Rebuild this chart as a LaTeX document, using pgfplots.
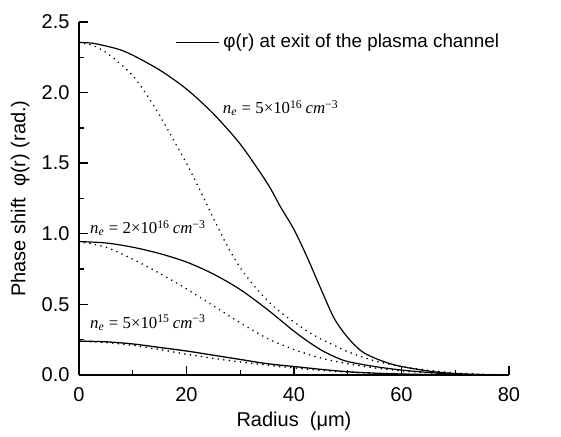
\documentclass[border=0pt]{standalone}
\usepackage{pgfplots}
\pgfplotsset{compat=1.18}
\usepackage{fontspec}
\setmainfont{Liberation Sans}
\newfontfamily\serifit{Liberation Serif}

\newcommand{\density}[2]{{\serifit\fontsize{8.4}{10}\selectfont\itshape n\textsubscript{e}\upshape~=~#1×10\textsuperscript{#2}\,\itshape cm\textsuperscript{\upshape −3}}}

\begin{document}
\begin{tikzpicture}
\begin{axis}[
  at={(0,0)}, anchor=south west,
  scale only axis, width=215pt, height=176.5pt,
  xmin=0, xmax=80, ymin=0, ymax=2.5,
  axis x line=bottom, axis y line=left,
  axis line style={-, line width=0.75pt},
  xtick={0,20,...,80}, ytick={0,0.5,...,2.5},
  minor x tick num=1, minor y tick num=1,
  tick align=inside,
  major tick length=4.5pt, minor tick length=2.5pt,
  every tick/.style={black, line width=0.7pt},
  /pgf/number format/assume math mode=true,
  tick label style={font=\fontsize{10}{12}\selectfont},
  yticklabel style={/pgf/number format/fixed, /pgf/number format/fixed zerofill,
    /pgf/number format/precision=1, xshift=-1.2pt},
  xticklabel style={yshift=-2.5pt},
  label style={font=\fontsize{10}{12}\selectfont},
  xlabel={Radius\ \ (μm)},
  ylabel={Phase shift\ \ φ(r) (rad.)},
  xlabel style={at={(axis description cs:0.5,0)}, anchor=center, yshift=-23pt},
  ylabel style={at={(axis description cs:-0.137,0.5)}, anchor=center},
  legend style={at={(rel axis cs:0.223,0.9425)}, anchor=west, draw=none, fill=none,
    inner sep=0pt, font=\fontsize{9.4}{11}\selectfont},
  legend image code/.code={\draw[#1] (0pt,0pt) -- (21.5pt,0pt);},
  legend cell align=left,
]
% n_e = 5e16, solid
\addplot[black, line width=0.6pt, smooth] coordinates {
  (0,2.355) (2.5,2.35) (5,2.33) (7.5,2.305) (10,2.265) (15,2.16) (20,2.025)
  (25,1.85) (30,1.635) (35,1.36) (37.5,1.19) (40,1.03) (42.5,0.83)
  (45,0.61) (47.5,0.40) (50,0.265) (52.5,0.17) (55,0.12) (57.5,0.085)
  (60,0.06) (65,0.028) (70,0.01) (75,0.003) (78,0)
};
\addlegendentry{φ(r) at exit of the plasma channel}
% n_e = 5e16, dotted
\addplot[black, line width=0.9pt, line cap=round, dash pattern=on 0.01pt off 2.8pt, smooth, forget plot] coordinates {
  (0,2.355) (2.5,2.335) (5,2.285) (7.5,2.21) (10,2.12) (12.5,1.99) (15,1.84)
  (17.5,1.67) (20,1.50) (22.5,1.31) (25,1.11) (27.5,0.92) (30,0.76)
  (32.5,0.635) (35,0.53) (37.5,0.445) (40,0.375) (42.5,0.31) (45,0.255)
  (47.5,0.21) (50,0.165) (55,0.10) (60,0.06) (65,0.033) (70,0.015)
  (75,0.005) (78,0)
};
% n_e = 2e16, solid
\addplot[black, line width=0.6pt, smooth, forget plot] coordinates {
  (0,0.945) (5,0.935) (10,0.905) (15,0.86) (20,0.80) (25,0.715) (30,0.605)
  (35,0.465) (40,0.31) (42.5,0.24) (45,0.178) (47.5,0.13) (50,0.095)
  (55,0.06) (60,0.035) (65,0.018) (70,0.006) (75,0)
};
% n_e = 2e16, dotted
\addplot[black, line width=0.9pt, line cap=round, dash pattern=on 0.01pt off 2.8pt, smooth, forget plot] coordinates {
  (0,0.945) (5,0.905) (10,0.82) (15,0.72) (20,0.61) (25,0.49) (30,0.37)
  (35,0.26) (40,0.18) (45,0.12) (50,0.08) (55,0.05) (60,0.03)
  (65,0.016) (70,0.007) (75,0.002) (78,0)
};
% n_e = 5e15, solid
\addplot[black, line width=0.65pt, smooth, forget plot] coordinates {
  (0,0.24) (5,0.235) (10,0.22) (15,0.195) (20,0.17) (25,0.14) (30,0.11)
  (35,0.08) (40,0.06) (45,0.04) (50,0.023) (55,0.013) (60,0.007)
  (65,0.003) (70,0)
};
% n_e = 5e15, dotted
\addplot[black, line width=0.9pt, line cap=round, dash pattern=on 0.01pt off 2.8pt, smooth, forget plot] coordinates {
  (0,0.24) (5,0.23) (10,0.21) (15,0.18) (20,0.147) (25,0.118) (30,0.093)
  (35,0.07) (40,0.05) (45,0.033) (50,0.02) (55,0.012) (60,0.007)
  (65,0.003) (70,0.001) (75,0)
};
\node[anchor=base west, inner sep=0pt] at (axis cs:26.7,1.85) {\density{5}{16}};
\node[anchor=base west, inner sep=0pt] at (axis cs:2.0,1.0) {\density{2}{16}};
\node[anchor=base west, inner sep=0pt] at (axis cs:2.0,0.33) {\density{5}{15}};
\end{axis}
\path (-39.5pt,-26.5pt) rectangle (241pt,187.5pt);
\end{tikzpicture}
\end{document}
